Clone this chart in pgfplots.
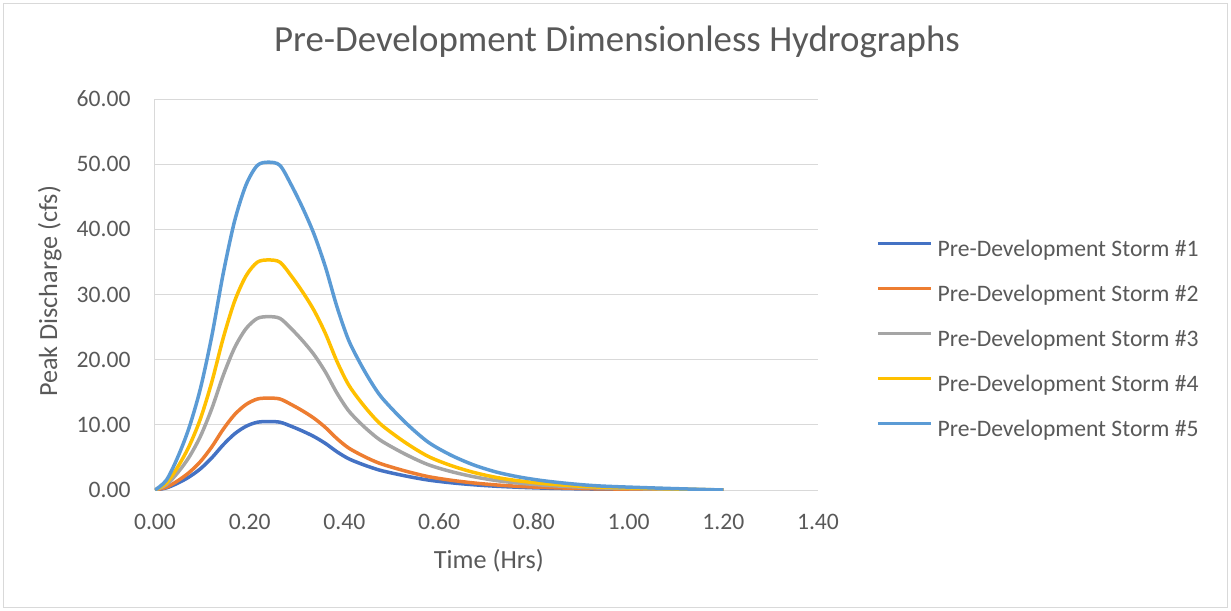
\documentclass[border=0pt]{standalone}
\usepackage{pgfplots}
\pgfplotsset{compat=1.18}
\usepackage{pgfplotstable}
\usepackage{fontspec}
\setmainfont{Carlito}
\definecolor{c1}{HTML}{4472C4}
\definecolor{c2}{HTML}{ED7D31}
\definecolor{c3}{HTML}{A5A5A5}
\definecolor{c4}{HTML}{FFC000}
\definecolor{c5}{HTML}{5B9BD5}
\definecolor{txt}{HTML}{595959}
\definecolor{grd}{HTML}{D9D9D9}

\pgfplotstableread{
t      s1     s2     s3     s4     s5
0.000  0.00   0.00   0.00   0.00   0.00
0.024  0.32   0.42   0.80   1.06   1.51
0.048  1.05   1.41   2.66   3.53   5.03
0.072  2.00   2.68   5.05   6.71   9.56
0.096  3.26   4.37   8.25   10.94  15.59
0.120  4.94   6.63   12.50  16.59  23.64
0.144  6.93   9.31   17.56  23.30  33.20
0.168  8.61   11.56  21.81  28.95  41.25
0.192  9.77   13.11  24.74  32.83  46.78
0.216  10.40  13.96  26.33  34.95  49.80
0.240  10.50  14.10  26.60  35.30  50.30
0.264  10.40  13.96  26.33  34.95  49.80
0.288  9.77   13.11  24.74  32.83  46.78
0.312  9.03   12.13  22.88  30.36  43.26
0.336  8.19   11.00  20.75  27.53  39.23
0.360  7.14   9.59   18.09  24.00  34.20
0.384  5.88   7.90   14.90  19.77  28.17
0.408  4.83   6.49   12.24  16.24  23.14
0.432  4.10   5.50   10.37  13.77  19.62
0.456  3.47   4.65   8.78   11.65  16.60
0.480  2.94   3.95   7.45   9.88   14.08
0.528  2.17   2.92   5.51   7.31   10.41
0.576  1.54   2.07   3.91   5.19   7.39
0.624  1.12   1.51   2.85   3.78   5.38
0.672  0.81   1.09   2.05   2.72   3.87
0.720  0.58   0.78   1.46   1.94   2.77
0.768  0.42   0.56   1.06   1.41   2.01
0.816  0.30   0.41   0.77   1.02   1.46
0.864  0.22   0.30   0.56   0.74   1.06
0.912  0.16   0.21   0.40   0.53   0.75
0.960  0.12   0.16   0.29   0.39   0.55
1.080  0.05   0.07   0.13   0.18   0.25
1.200  0.00   0.00   0.00   0.00   0.00
}\hydro

\begin{document}
\begin{tikzpicture}
\path[use as bounding box] (-155bp,-121bp) rectangle (1076bp,490bp);
\draw[grd, line width=1bp] (-151bp,-117bp) rectangle (1072bp,486bp);
\begin{axis}[
  at={(0,0)}, anchor=south west,
  scale only axis, width=663bp, height=391bp,
  xmin=0, xmax=1.4, ymin=0, ymax=60,
  xtick={0,0.2,0.4,0.6,0.8,1.0,1.2,1.4},
  ytick={0,10,20,30,40,50,60},
  ymajorgrids,
  major grid style={grd, line width=1bp},
  axis x line*=bottom, axis y line*=left,
  axis line style={grd, line width=1bp, -},
  major tick length=0pt,
  tick label style={font=\fontsize{23.7}{28}\selectfont, text=txt},
  xticklabel style={anchor=base, yshift=-39.3bp, inner sep=0pt},
  yticklabel style={anchor=east, xshift=-24.3bp, inner sep=0pt},
  /pgf/number format/.cd, fixed, fixed zerofill, precision=2, assume math mode=true,
  /pgfplots/.cd,
  title={Pre-Development Dimensionless Hydrographs},
  title style={at={(axis description cs:0.6968,1.1066)}, anchor=base, font=\fontsize{37}{44}\selectfont, text=txt, inner sep=0pt},
  xlabel={Time (Hrs)},
  xlabel style={at={(axis description cs:0.5035,-0.2020)}, anchor=base, font=\fontsize{26.3}{31}\selectfont, text=txt, inner sep=0pt},
  ylabel={Peak Discharge (cfs)},
  ylabel style={at={(axis description cs:-0.1478,0.5077)}, anchor=base, rotate=0, font=\fontsize{26.3}{31}\selectfont, text=txt, inner sep=0pt},
  legend cell align=left,
  legend style={at={(axis description cs:1.0875,0.6394)}, anchor=north west, draw=none, fill=none,
    font=\fontsize{23.7}{28}\selectfont, text=txt, inner sep=0pt, row sep=24bp, column sep=5bp,
    nodes={inner sep=0pt, text height=16bp, text depth=5bp}},
  legend image code/.code={\draw[#1, line width=3.5bp] (0bp,7bp) -- (53bp,7bp);},
  every axis plot/.append style={line width=3.5bp, smooth, tension=0.5},
]
\addplot[c1] table[x=t, y=s1] {\hydro};
\addlegendentry{Pre-Development Storm \#1}
\addplot[c2] table[x=t, y=s2] {\hydro};
\addlegendentry{Pre-Development Storm \#2}
\addplot[c3] table[x=t, y=s3] {\hydro};
\addlegendentry{Pre-Development Storm \#3}
\addplot[c4] table[x=t, y=s4] {\hydro};
\addlegendentry{Pre-Development Storm \#4}
\addplot[c5] table[x=t, y=s5] {\hydro};
\addlegendentry{Pre-Development Storm \#5}
\end{axis}
\end{tikzpicture}
\end{document}
